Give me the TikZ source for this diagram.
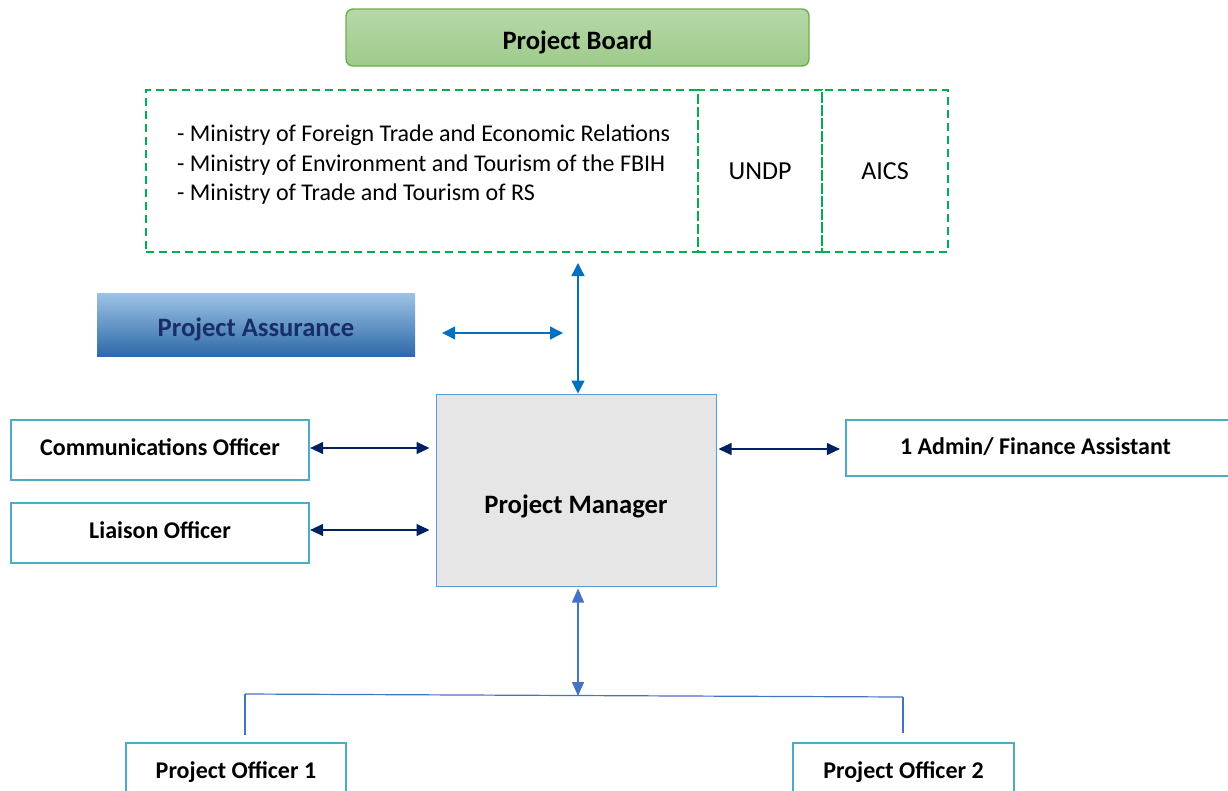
\documentclass[tikz,border=0pt]{standalone}
\usepackage{fontspec}
\setmainfont{Carlito}
\usetikzlibrary{arrows.meta}
\definecolor{bgTop}{HTML}{B7D8AA}
\definecolor{bgBot}{HTML}{9ECB8A}
\definecolor{bgLine}{HTML}{70AD47}
\definecolor{dashGreen}{HTML}{00B050}
\definecolor{paTop}{HTML}{9DC3E6}
\definecolor{paBot}{HTML}{2E69A8}
\definecolor{paText}{HTML}{172F66}
\definecolor{arrBlue}{HTML}{0070C0}
\definecolor{navy}{HTML}{002060}
\definecolor{boxLine}{HTML}{4BACC6}
\definecolor{pmFill}{HTML}{E7E6E6}
\definecolor{pmLine}{HTML}{5B9BD5}
\definecolor{busBlue}{HTML}{4472C4}
\begin{document}
\begin{tikzpicture}[x=1pt,y=-1pt,
  dashbox/.style={draw=dashGreen, line width=2.2pt, dash pattern=on 8pt off 5pt, minimum height=162pt, inner sep=0pt},
  stafffont/.style={font=\fontsize{24}{28}\selectfont\bfseries},
  staffbox/.style={draw=boxLine, line width=2.2pt, fill=white, inner sep=0pt, stafffont},
  barrow/.style={draw=arrBlue, line width=1.4pt, {Triangle[length=13pt,width=13pt]}-{Triangle[length=13pt,width=13pt]}},
  narrow/.style={draw=navy, line width=1.2pt, {Triangle[length=13pt,width=12pt]}-{Triangle[length=13pt,width=12pt]}},
  lbarrow/.style={draw=busBlue, line width=1.4pt, {Triangle[length=14pt,width=12pt]}-{Triangle[length=14pt,width=12pt]}},
  busline/.style={draw=busBlue, line width=1.2pt}
]
\useasboundingbox (0,0) rectangle (1228,790);
\fill[white] (0,0) rectangle (1228,790);

% Project Board
\node[draw=bgLine, line width=1.4pt, rounded corners=7pt, top color=bgTop, bottom color=bgBot,
      minimum width=463pt, minimum height=57pt, inner sep=0pt,
      label={[yshift=-5pt, font=\fontsize{26.6}{30}\selectfont\bfseries]center:Project Board}]
  (board) at (577.5,37.5) {};

% Board members
\node[dashbox, minimum width=552pt] (ministries) at (422,171) {};
\node[dashbox, minimum width=124pt] (undp) at (760,171) {\fontsize{26}{30}\selectfont UNDP};
\node[dashbox, minimum width=126pt] (aics) at (885,171) {\fontsize{26}{30}\selectfont AICS};
\node[anchor=west, align=left, inner sep=0pt, font=\fontsize{24}{29.5}\selectfont] (minlist) at (177,165)
  {- Ministry of Foreign Trade and Economic Relations\\
   - Ministry of Environment and Tourism of the FBIH\\
   - Ministry of Trade and Tourism of RS};

% Project Assurance
\node[top color=paTop, bottom color=paBot, minimum width=318pt, minimum height=63pt, inner sep=0pt,
      label={[yshift=-5pt, text=paText, font=\fontsize{26.6}{30}\selectfont\bfseries]center:Project Assurance}]
  (assure) at (256,324.5) {};

% Project Manager
\node[draw=pmLine, line width=1pt, fill=pmFill, minimum width=280pt, minimum height=192pt, inner sep=0pt,
      label={[yshift=-16pt, font=\fontsize{26.6}{30}\selectfont\bfseries]center:Project Manager}] (pm) at (576,490) {};

% Staff boxes
\node[staffbox, minimum width=298pt, minimum height=60pt,
      label={[yshift=3pt, stafffont]center:Communications Officer}] (comm) at (160,450) {};
\node[staffbox, minimum width=298pt, minimum height=60pt,
      label={[yshift=3pt, stafffont]center:Liaison Officer}] (liaison) at (160,533) {};
\node[staffbox, minimum width=386pt, minimum height=56pt,
      label={[xshift=-3.5pt, yshift=1pt, stafffont]center:1 Admin/ Finance Assistant}] (admin) at (1039,448) {};
\node[staffbox, minimum width=220pt, minimum height=58pt] (po1) at (236,772) {Project Officer 1};
\node[staffbox, minimum width=221pt, minimum height=58pt] (po2) at (903.5,772) {Project Officer 2};

% Connectors
\coordinate (topA) at (578,263);
\draw[barrow] (topA) -- (topA |- pm.north);
\coordinate (asR) at (563,333);
\draw[barrow, shorten <=27pt] (assure.east |- asR) -- (asR);
\draw[narrow, shorten >=6pt] ([yshift=2pt]comm.east) -- ([yshift=2pt]comm.east -| pm.west);
\draw[narrow, shorten >=6pt] ([yshift=3pt]liaison.east) -- ([yshift=3pt]liaison.east -| pm.west);
\draw[narrow, shorten <=2pt, shorten >=5pt] ([yshift=-1pt]pm.east |- admin.west) -- ([yshift=-1pt]admin.west);

\coordinate (bus) at (578,696);
\coordinate (busL) at (245,694);
\coordinate (busR) at (903,697);
\draw[lbarrow, shorten <=2pt] (topA |- pm.south) -- (bus);
\draw[busline] (busL) -- (busR);
\draw[busline] (busL) -- (busL |- 0,735);
\draw[busline] (busR) -- (busR |- 0,733);
\end{tikzpicture}
\end{document}
